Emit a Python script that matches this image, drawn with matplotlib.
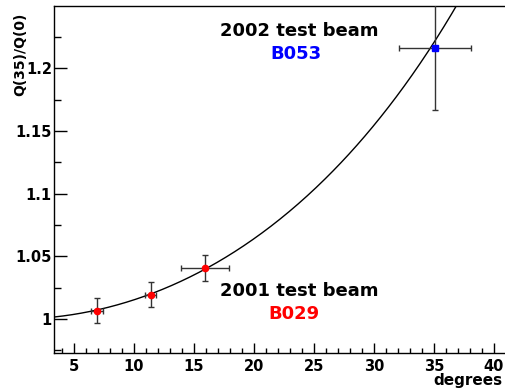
import numpy as np
import matplotlib
matplotlib.use("Agg")
import matplotlib.pyplot as plt
from matplotlib.ticker import MultipleLocator

# measured points: 2001 test beam (B029) and 2002 test beam (B053)
angle_2001 = [6.9, 11.4, 15.9]
ratio_2001 = [1.0066, 1.0194, 1.0405]
angle_err_2001 = [0.5, 0.45, 2.0]
ratio_err_2001 = [0.010, 0.010, 0.0103]

angle_2002 = [35.05]
ratio_2002 = [1.2166]
angle_err_2002 = [3.0]
ratio_err_2002 = [0.05]

x_ticks = [5, 10, 15, 20, 25, 30, 35, 40]
y_ticks = [1.0, 1.05, 1.1, 1.15, 1.2]
y_tick_labels = ["1", "1.05", "1.1", "1.15", "1.2"]

plt.rcParams["font.family"] = ["DejaVu Sans"]
plt.rcParams["font.weight"] = "bold"

fig = plt.figure(figsize=(5.05, 3.89), dpi=100)
ax = fig.add_axes([54 / 505, 1 - 353 / 389, 1 - 54 / 505, (353 - 6) / 389])

ax.set_xlim(3.333, 40.917)
ax.set_ylim(0.973, 1.2498)

# model curve 1/cos(theta)
theta = np.linspace(3.333, 40.9, 400)
ax.plot(theta, 1 / np.cos(np.radians(theta)), color="black", lw=1.0, zorder=2)

ax.errorbar(angle_2001, ratio_2001, xerr=angle_err_2001, yerr=ratio_err_2001,
            fmt="o", color="red", ms=4.5, ecolor="#333333", elinewidth=1.0,
            capsize=2.5, capthick=1.0, zorder=3)
ax.errorbar(angle_2002, ratio_2002, xerr=angle_err_2002, yerr=ratio_err_2002,
            fmt="s", color="blue", ms=4.5, ecolor="#333333", elinewidth=1.0,
            capsize=2.5, capthick=1.0, zorder=3, clip_on=True)

ax.spines["right"].set_visible(False)
for s in ["left", "bottom", "top"]:
    ax.spines[s].set_linewidth(1.0)

ax.set_xticks(x_ticks)
ax.set_xticklabels([str(t) for t in x_ticks])
ax.xaxis.set_minor_locator(MultipleLocator(1))
ax.set_yticks(y_ticks)
ax.set_yticklabels(y_tick_labels)
ax.yaxis.set_minor_locator(MultipleLocator(0.025))

ax.tick_params(axis="x", which="major", direction="in", length=7.2, width=1,
               top=False, labelsize=10.5, pad=4)
ax.tick_params(axis="x", which="minor", direction="in", length=3.6, width=1, top=False)
ax.tick_params(axis="y", which="major", direction="in", length=9.4, width=1,
               right=False, labelsize=10.5, pad=1.5)
ax.tick_params(axis="y", which="minor", direction="in", length=5, width=1, right=False)
for lab in ax.get_xticklabels() + ax.get_yticklabels():
    lab.set_fontweight("bold")

ax.text(23.8, 1.2299, "2002 test beam", ha="center", va="center",
        fontsize=13, fontweight="bold", color="black")
ax.text(23.5, 1.2116, "B053", ha="center", va="center",
        fontsize=13, fontweight="bold", color="blue")
ax.text(23.75, 1.0226, "2001 test beam", ha="center", va="center",
        fontsize=13, fontweight="bold", color="black")
ax.text(23.3, 1.0042, "B029", ha="center", va="center",
        fontsize=13, fontweight="bold", color="red")

fig.text(20 / 505, 1 - 13 / 389, "Q(35)/Q(0)", rotation=90, ha="center", va="top",
         fontsize=10, fontweight="bold")
fig.text(503 / 505, 1 / 389, "degrees", ha="right", va="bottom",
         fontsize=11, fontweight="bold")

fig.savefig("out.png", dpi=100)
